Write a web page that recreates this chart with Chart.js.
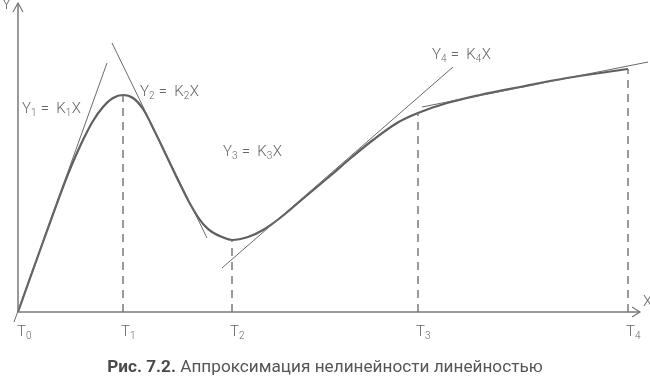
<!DOCTYPE html>
<html>
<head>
<meta charset="utf-8">
<script src="https://cdn.jsdelivr.net/npm/chart.js@4"></script>
<style>
  html, body { margin: 0; padding: 0; background: #fff; }
  #wrap { position: relative; width: 650px; height: 379px; }
  #caption {
    position: absolute; left: 0; width: 650px; top: 356px;
    text-align: center; font-family: Roboto, "Noto Sans", sans-serif;
    font-size: 17.2px; line-height: 20px; color: #555;
  }
  #caption b { font-weight: 700; color: #4a4a4a; }
</style>
</head>
<body>
<div id="wrap">
  <canvas id="chart" width="650" height="379"></canvas>
  <div id="caption"><b>Рис. 7.2.</b> Аппроксимация нелинейности линейностью</div>
</div>
<script>
// curve y(t)
const curveX = [0, 25, 45, 55, 65, 75, 85, 95, 105, 115, 125, 137, 149, 160, 170, 178, 186, 194, 204, 214, 230, 245, 262, 287, 312, 334, 355, 379, 400, 429, 462, 502, 549, 610];
const curveY = [0, 70, 125, 150, 172, 191, 205, 214, 217, 214, 203, 180, 155, 132, 112, 98, 87, 80, 75, 72, 75, 82, 94, 115, 136, 155, 172, 189, 199, 209, 217, 225, 234, 243];

// tangent lines Y = K X (two end points each)
const tan1 = [[-4, -10], [89, 249]];
const tan2 = [[94, 269], [189, 74]];
const tan3 = [[204, 44], [435, 245]];
const tan4 = [[404, 205], [630, 250]];

// moments T0..T4 and the curve value there
const tickX = [0, 105, 214, 400, 610];
const tickY = [0, 217, 72, 199, 243];
const tickSubs = ['0', '1', '2', '3', '4'];

// equation labels
const eqSubs = ['1', '2', '3', '4'];
const eqAt = [[4, 199], [122, 216], [205, 156], [414, 253]];

const axisX = [[0, 0], [622, 0]];
const axisY = [[0, 0], [0, 309]];
const arrowX = [[614, 5], [622, 0], [614, -5]];
const arrowY = [[-5, 300], [0, 309], [5, 300]];

const GREY = '#6a6a6a';
const FONT = 'Roboto, "Noto Sans", sans-serif';

function pts(arr) { return arr.map(p => ({ x: p[0], y: p[1] })); }

function line(data, opts) {
  return Object.assign({
    data: pts(data), borderColor: GREY, borderWidth: 1,
    pointRadius: 0, tension: 0, fill: false
  }, opts || {});
}

let datasets = [
  line(axisX, { borderWidth: 1.5, borderColor: '#777' }),
  line(axisY, { borderWidth: 1.5, borderColor: '#777' }),
  line(arrowX, { borderWidth: 1.2, borderColor: '#777' }),
  line(arrowY, { borderWidth: 1.2, borderColor: '#777' }),
  line(tan1), line(tan2), line(tan3), line(tan4)
];
tickX.forEach((x, i) => {
  if (i === 0) return;
  datasets.push(line([[x, 0], [x, tickY[i]]], { borderColor: '#7a7a7a', borderWidth: 1.5, borderDash: [8, 6] }));
});
datasets.push({
  data: curveX.map((x, i) => ({ x: x, y: curveY[i] })),
  borderColor: '#5f5f5f', borderWidth: 2.2, pointRadius: 0,
  tension: 0.35, fill: false
});

function drawSub(ctx, parts, x, y) {
  // parts: [text, isSub]
  parts.forEach(p => {
    ctx.font = p[1] ? '300 10px ' + FONT : '300 15px ' + FONT;
    ctx.fillText(p[0], x, p[1] ? y + 3 : y);
    x += ctx.measureText(p[0]).width + (p[1] ? 0.5 : 0);
  });
}

const textPlugin = {
  id: 'texts',
  afterDatasetsDraw(chart) {
    const ctx = chart.ctx, xs = chart.scales.x, ys = chart.scales.y;
    ctx.save();
    ctx.fillStyle = '#666';
    ctx.textBaseline = 'alphabetic';
    ctx.textAlign = 'left';
    eqAt.forEach((p, i) => {
      drawSub(ctx, [['Y', 0], [eqSubs[i], 1], [' =  K', 0], [eqSubs[i], 1], ['X', 0]],
        xs.getPixelForValue(p[0]), ys.getPixelForValue(p[1]));
    });
    tickX.forEach((x, i) => {
      drawSub(ctx, [['T', 0], [tickSubs[i], 1]], xs.getPixelForValue(x) - (i === 0 ? 1 : 2), ys.getPixelForValue(-24));
    });
    drawSub(ctx, [['Y', 0]], xs.getPixelForValue(-16), ys.getPixelForValue(303));
    drawSub(ctx, [['X', 0]], xs.getPixelForValue(625), ys.getPixelForValue(6));
    ctx.restore();
  }
};

new Chart(document.getElementById('chart').getContext('2d'), {
  type: 'line',
  data: { datasets: datasets },
  options: {
    responsive: false,
    animation: false,
    devicePixelRatio: 1,
    layout: { padding: 0 },
    plugins: { legend: { display: false }, tooltip: { enabled: false } },
    scales: {
      x: { type: 'linear', min: -18, max: 632, display: false },
      y: { type: 'linear', min: -67, max: 312, display: false }
    }
  },
  plugins: [textPlugin]
});
</script>
</body>
</html>
